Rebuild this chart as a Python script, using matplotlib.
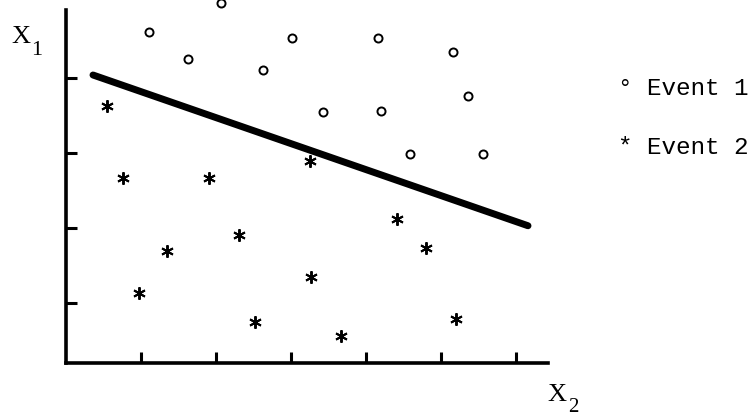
import matplotlib
matplotlib.use("Agg")
from matplotlib import pyplot as plt

# event 1 (open circles), units = one tick spacing
ev1_x = [2.07, 1.11, 1.63, 3.01, 2.63, 3.43, 4.16, 5.16, 5.36, 4.20, 4.59, 5.56]
ev1_y = [4.80, 4.41, 4.05, 4.33, 3.91, 3.35, 4.33, 4.15, 3.56, 3.36, 2.79, 2.79]

# event 2 (asterisks)
ev2_x = [0.55, 0.76, 1.91, 3.25, 1.35, 2.31, 4.41, 4.80, 0.97, 3.27, 2.52, 3.67, 5.20]
ev2_y = [3.43, 2.47, 2.47, 2.69, 1.49, 1.71, 1.92, 1.53, 0.93, 1.15, 0.55, 0.36, 0.59]

# separating line
line_x = [0.36, 6.16]
line_y = [3.84, 1.83]

xticks = [1, 2, 3, 4, 5, 6]
yticks = [0.8, 1.8, 2.8, 3.8]

fig = plt.figure(figsize=(7.54, 4.18), dpi=100)
ax = fig.add_axes([66/754, 1-363/418, 482/754, 353/418])
ax.set_xlim(0, 482/75)
ax.set_ylim(0, 353/75)

for s in ["top", "right"]:
    ax.spines[s].set_visible(False)
for s in ["left", "bottom"]:
    ax.spines[s].set_linewidth(2.6)
ax.set_xticks(xticks)
ax.set_yticks(yticks)
ax.tick_params(direction="in", length=8, width=2.2, labelbottom=False, labelleft=False)

ax.plot(line_x, line_y, color="black", lw=5, solid_capstyle="round")
ax.plot(ev1_x, ev1_y, "o", ls="none", mfc="white", mec="black", ms=5.8, mew=1.4, clip_on=False)
ax.plot(ev2_x, ev2_y, marker=(6, 2, 0), ls="none", color="black", ms=9, mew=1.4, clip_on=False)

# axis labels (X plus subscript digit)
fig.text(11/754, 1-43/418, "X", family="Liberation Serif", fontsize=19, va="baseline")
fig.text(31/754, 1-55/418, "1", family="Liberation Serif", fontsize=16, va="baseline")
fig.text(547/754, 1-401/418, "X", family="Liberation Serif", fontsize=19, va="baseline")
fig.text(568/754, 1-412/418, "2", family="Liberation Serif", fontsize=15, va="baseline")

# legend
fig.text(618/754, 1-95/418, "\u00b0 Event 1", family="Liberation Mono", fontsize=17.5, va="baseline")
fig.text(618/754, 1-154/418, "* Event 2", family="Liberation Mono", fontsize=17.5, va="baseline")

fig.savefig("out.png", dpi=100)
